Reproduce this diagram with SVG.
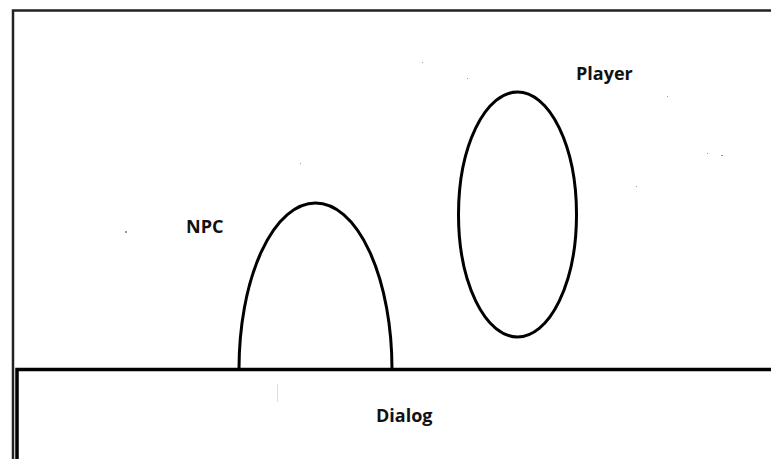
<svg xmlns="http://www.w3.org/2000/svg" width="771" height="459" viewBox="0 0 771 459">
<style>
.ln{fill:none;stroke:#000;stroke-width:3}
.lbl{font-family:"Open Sans","Liberation Sans",sans-serif;font-weight:bold;font-size:18px;fill:#111}
.speck{fill:#999}
</style>
<rect width="771" height="459" fill="#fff"/>
<g id="frame">
<path d="M13 459 V10.5 H771" fill="none" stroke="#222" stroke-width="2.5"/>
</g>
<g id="dialog">
<path d="M17 459 V369.5 H771" fill="none" stroke="#000" stroke-width="3.5"/>
<text class="lbl" x="376" y="422">Dialog</text>
</g>
<g id="npc">
<path class="ln" d="M239 369 A76.5 166 0 0 1 392 369"/>
<text class="lbl" x="186" y="233">NPC</text>
</g>
<g id="player">
<ellipse class="ln" cx="517.5" cy="214.5" rx="59" ry="122.5"/>
<text class="lbl" x="576" y="80">Player</text>
</g>
<g id="connectors"></g>
<g id="specks">
<rect class="speck" x="125" y="231" width="2" height="2"/>
<rect class="speck" x="422" y="62" width="1" height="1"/>
<rect class="speck" x="467" y="78" width="1" height="1"/>
<rect class="speck" x="667" y="96" width="1" height="1"/>
<rect class="speck" x="707" y="153" width="1" height="1"/>
<rect class="speck" x="721" y="155" width="2" height="1"/>
<rect class="speck" x="636" y="186" width="1" height="1"/>
<rect class="speck" x="300" y="163" width="1" height="1"/>
<rect x="277" y="384" width="1" height="18" fill="#ddd"/>
</g>
</svg>
